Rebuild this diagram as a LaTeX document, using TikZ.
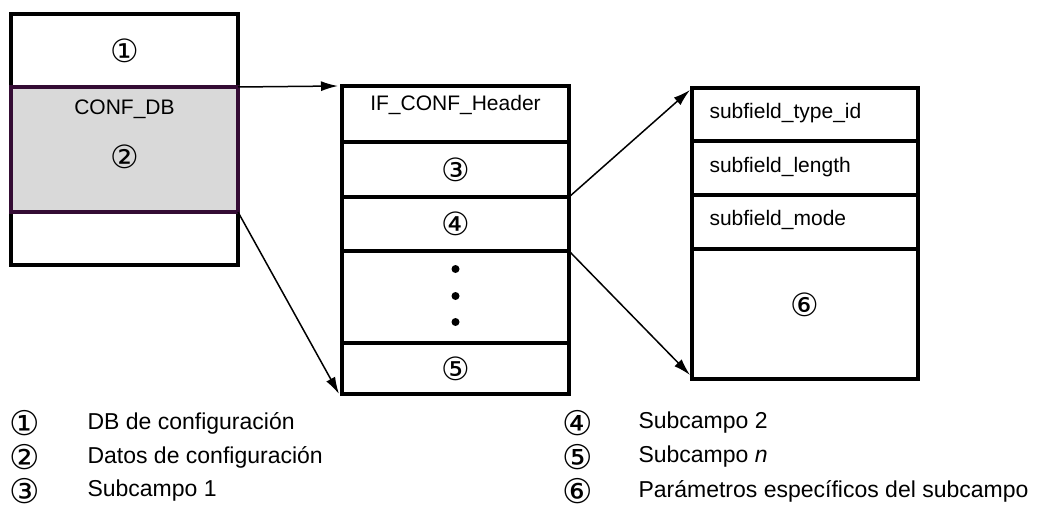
\documentclass[tikz,border=0pt]{standalone}
\usepackage{fontspec}
\setmainfont{Liberation Sans}
\newfontfamily\circfont{DejaVu Sans}
\usepackage{xcolor}
\usetikzlibrary{positioning,arrows.meta}
\definecolor{confgray}{RGB}{217,217,217}
\definecolor{confedge}{RGB}{52,12,52}

\begin{document}
\begin{tikzpicture}[
    x=1pt,y=1pt,
    cell/.style={
      draw,line width=3.2pt,outer sep=0pt,inner sep=0pt,
      minimum width=227pt},
    lbl/.style={font=\fontsize{21}{25}\selectfont},
    num/.style={inner sep=0pt,font=\circfont\fontsize{32}{32}\selectfont},
    dot/.style={circle,fill,inner sep=0pt,minimum size=8pt},
    legnum/.style={inner sep=0pt,font=\circfont\fontsize{34}{34}\selectfont},
    legtxt/.style={anchor=west,font=\fontsize{23}{28}\selectfont},
    arr/.style={-{Latex[length=17pt,width=10pt]},line width=1.5pt}
]
\useasboundingbox (0,0) rectangle (1049,-513);

% configuration DB
\node[cell,minimum height=73pt]                           (dbtop) at (124.5,-50.5) {};
\node[cell,minimum height=53pt,below=125pt of dbtop]      (dbbot) {};
\node[cell,minimum height=125pt,fill=confgray,draw=confedge,
      below=0pt of dbtop]                                 (conf)  {};
\node[num] (n1) at (dbtop) {①};
\node[lbl] (confname) at ([yshift=-22pt]conf.north) {CONF\_DB};
\node[num] (n2) at ([yshift=-70pt]conf.north) {②};

% data record with subfields
\node[cell,minimum height=56pt]                           (hdr)  at (455.5,-114) {};
\node[cell,minimum height=55pt,below=0pt of hdr]          (sf1)  {};
\node[cell,minimum height=54pt,below=0pt of sf1]          (sf2)  {};
\node[cell,minimum height=92pt,below=0pt of sf2]          (more) {};
\node[cell,minimum height=51pt,below=0pt of more]         (sfn)  {};
\node[lbl] (hdrname) at ([yshift=-19pt]hdr.north) {IF\_CONF\_Header};
\node[num] (n3) at (sf1) {③};
\node[num] (n4) at (sf2) {④};
\node[num] (n5) at (sfn) {⑤};
\foreach \y [count=\k] in {28,1,-25}
  \node[dot] (dot\k) at ([yshift=\y pt]more) {};

% one subfield
\node[cell,minimum width=226pt,minimum height=53pt]       (sftype) at (805,-114.5) {};
\node[cell,minimum width=226pt,minimum height=54pt,below=0pt of sftype] (sflen)  {};
\node[cell,minimum width=226pt,minimum height=54pt,below=0pt of sflen]  (sfmode) {};
\node[cell,minimum width=226pt,minimum height=130pt,below=0pt of sfmode] (sfpar) {};
\node[lbl,anchor=west] (typename) at ([xshift=14pt,yshift=1pt]sftype.west) {subfield\_type\_id};
\node[lbl,anchor=west] (lenname)  at ([xshift=14pt,yshift=1pt]sflen.west)  {subfield\_length};
\node[lbl,anchor=west] (modename) at ([xshift=14pt,yshift=2pt]sfmode.west) {subfield\_mode};
\node[num] (n6) at ([yshift=9pt]sfpar) {⑥};

\draw[arr] (conf.north east) -- ([xshift=-4pt]hdr.north west);
\draw[arr] (conf.south east) -- ([xshift=-3pt]sfn.south west);
\draw[arr] (sf2.north east)  -- ([xshift=-2pt,yshift=-2pt]sftype.north west);
\draw[arr] (sf2.south east)  -- ([xshift=-2pt,yshift=4pt]sfpar.south west);

% legend
\foreach \n/\t [count=\k] in {①/DB de configuración,②/Datos de configuración,③/Subcampo 1}{
  \node[legnum] (leg\k) at (25,{-389-34*\k}) {\n};
  \node[legtxt] (legt\k) at (84,{-389-34*\k}) {\t};
}
\foreach \n/\t [count=\k from 4] in {④/Subcampo 2,⑤/Subcampo \textit{n},⑥/Parámetros específicos del subcampo}{
  \node[legnum] (leg\k) at (578,{-389-34*(\k-3)}) {\n};
  \node[legtxt] (legt\k) at (635,{-389-34*(\k-3)}) {\t};
}
\end{tikzpicture}
\end{document}
